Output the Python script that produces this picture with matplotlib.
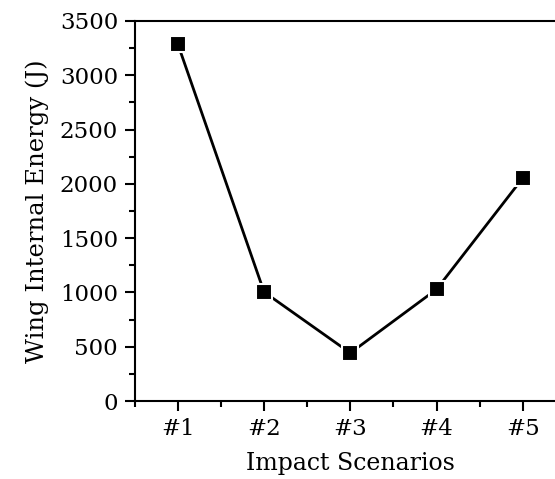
import matplotlib
matplotlib.use("Agg")
from matplotlib import pyplot as plt
from matplotlib.ticker import MultipleLocator

scenarios = ["#1", "#2", "#3", "#4", "#5"]
energy = [3288, 1004, 442, 1029, 2054]

plt.rcParams["font.family"] = ["DejaVu Serif"]

fig = plt.figure(figsize=(5.55, 4.79), dpi=100)
ax = fig.add_axes([0.2427, 0.1628, 0.777, 0.7934])

x = list(range(1, len(scenarios) + 1))
ax.plot(x, energy, color="black", linewidth=2, marker="s", markersize=11,
        markerfacecolor="black", markeredgecolor="white", markeredgewidth=1.5)

ax.set_xlim(0.5, 5.5)
ax.set_ylim(0, 3500)
ax.set_xticks(x)
ax.set_xticklabels(scenarios)
ax.xaxis.set_minor_locator(MultipleLocator(0.5))
ax.yaxis.set_major_locator(MultipleLocator(500))
ax.yaxis.set_minor_locator(MultipleLocator(250))

for side in ["left", "bottom", "top", "right"]:
    ax.spines[side].set_linewidth(1.5)

ax.tick_params(which="major", direction="out", length=7, width=1.5, labelsize=16.5)
ax.tick_params(which="minor", direction="out", length=4, width=1.5)
ax.tick_params(axis="x", pad=5)
ax.tick_params(axis="y", pad=5)

ax.set_xlabel("Impact Scenarios", fontsize=17, labelpad=9)
ax.set_ylabel("Wing Internal Energy (J)", fontsize=17.5, labelpad=8)

fig.savefig("out.png", dpi=100)
